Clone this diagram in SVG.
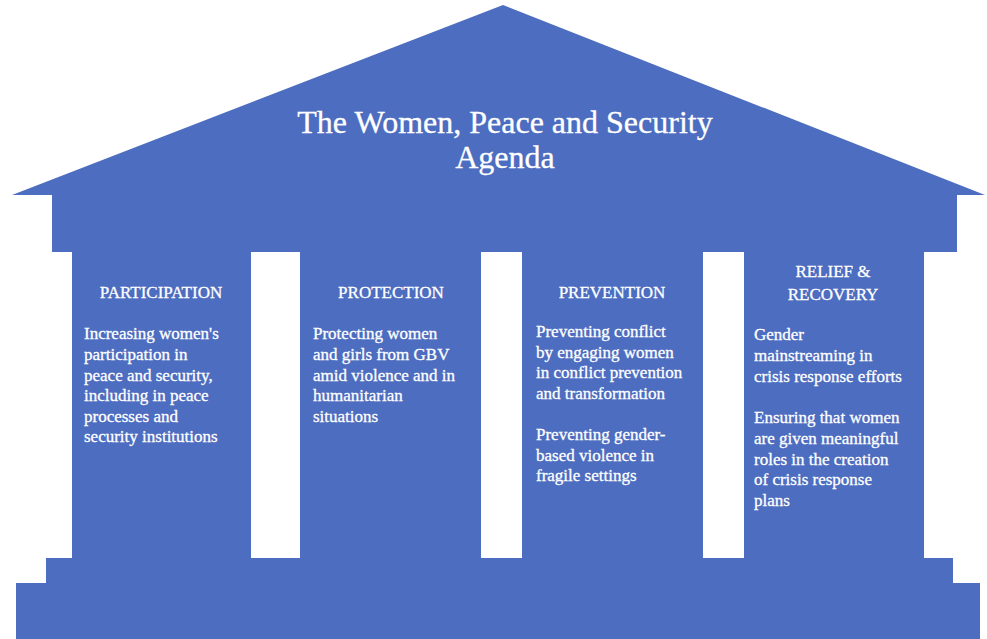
<svg xmlns="http://www.w3.org/2000/svg" width="987" height="639" viewBox="0 0 987 639">
<style>
.b{fill:#4d6dc0}
.t{font-family:"Liberation Serif","Times New Roman",serif;fill:#ffffff;stroke:#ffffff;stroke-width:0.3}
.title{font-size:32px}
.h{font-size:17px;text-anchor:middle}
.p{font-size:17px}
</style>
<rect width="987" height="639" fill="#ffffff"/>
<g id="roof">
<polygon class="b" points="503,5 985,195 12,195"/>
<text class="t title" x="505" y="133" text-anchor="middle">The Women, Peace and Security</text>
<text class="t title" x="505" y="168" text-anchor="middle">Agenda</text>
</g>
<g id="body">
<rect class="b" x="52" y="194" width="905" height="58"/>
</g>
<g id="participation">
<rect class="b" x="72" y="250" width="179" height="309"/>
<text class="t h" x="161" y="298">PARTICIPATION</text>
<text class="t p" x="84" y="339">Increasing women's</text>
<text class="t p" x="84" y="360">participation in</text>
<text class="t p" x="84" y="381">peace and security,</text>
<text class="t p" x="84" y="401">including in peace</text>
<text class="t p" x="84" y="422">processes and</text>
<text class="t p" x="84" y="442">security institutions</text>
</g>
<g id="protection">
<rect class="b" x="300" y="250" width="181" height="309"/>
<text class="t h" x="391" y="298">PROTECTION</text>
<text class="t p" x="313" y="339">Protecting women</text>
<text class="t p" x="313" y="360">and girls from GBV</text>
<text class="t p" x="313" y="381">amid violence and in</text>
<text class="t p" x="313" y="401">humanitarian</text>
<text class="t p" x="313" y="422">situations</text>
</g>
<g id="prevention">
<rect class="b" x="522" y="250" width="181" height="309"/>
<text class="t h" x="612" y="298">PREVENTION</text>
<text class="t p" x="536" y="337">Preventing conflict</text>
<text class="t p" x="536" y="358">by engaging women</text>
<text class="t p" x="536" y="378">in conflict prevention</text>
<text class="t p" x="536" y="399">and transformation</text>
<text class="t p" x="536" y="440">Preventing gender-</text>
<text class="t p" x="536" y="461">based violence in</text>
<text class="t p" x="536" y="481">fragile settings</text>
</g>
<g id="relief">
<rect class="b" x="744" y="250" width="180" height="309"/>
<text class="t h" x="833" y="277">RELIEF &amp;</text>
<text class="t h" x="833" y="300">RECOVERY</text>
<text class="t p" x="754" y="340">Gender</text>
<text class="t p" x="754" y="361">mainstreaming in</text>
<text class="t p" x="754" y="382">crisis response efforts</text>
<text class="t p" x="754" y="423">Ensuring that women</text>
<text class="t p" x="754" y="444">are given meaningful</text>
<text class="t p" x="754" y="465">roles in the creation</text>
<text class="t p" x="754" y="485">of crisis response</text>
<text class="t p" x="754" y="506">plans</text>
</g>
<g id="base">
<rect class="b" x="46" y="558" width="907" height="26"/>
<rect class="b" x="16" y="583" width="964" height="56"/>
</g>
</svg>
